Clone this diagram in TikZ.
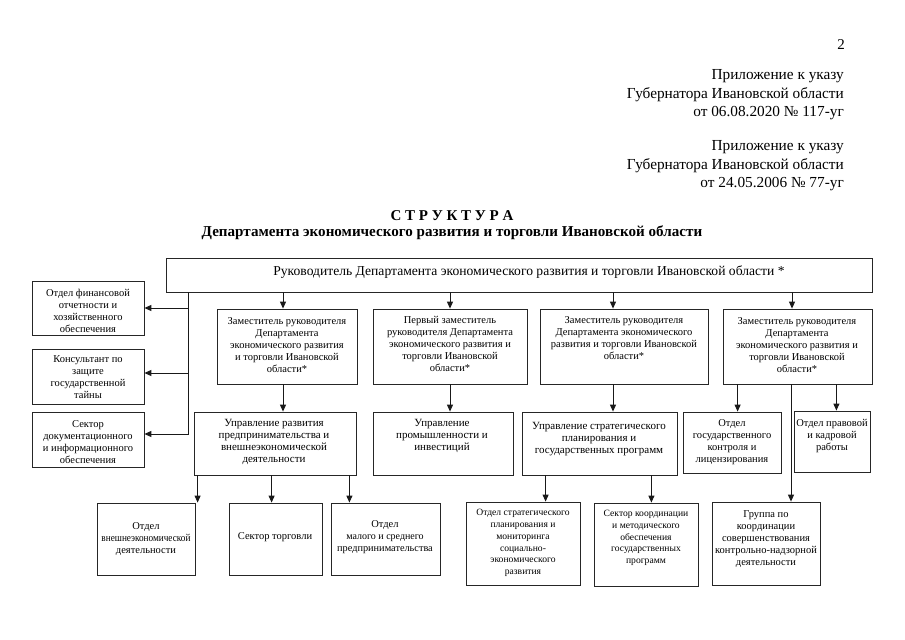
\documentclass[tikz,border=0pt]{standalone}
\usepackage{fontspec}
\setmainfont{Liberation Serif}
\usetikzlibrary{arrows.meta,fit}
\tikzset{
  bx/.style={draw=black!85, line width=0.8bp, inner sep=0pt},
  tx/.style={align=center, inner sep=0pt, font=\fontsize{10.5bp}{12bp}\selectfont},
  txm/.style={align=center, inner sep=0pt, font=\fontsize{11bp}{12.3bp}\selectfont},
  txs/.style={align=center, inner sep=0pt, font=\fontsize{9.6bp}{11.8bp}\selectfont},
  arr/.style={-{Triangle[length=7bp,width=6bp]}, line width=1bp, draw=black!90, fill=black!90},
  ln/.style={line width=1bp, draw=black!90},
}
\newcommand{\rbox}[5]{\node[bx, fit={(#2,#3) (#4,#5)}] (#1) {};}
\begin{document}
\begin{tikzpicture}[x=1bp,y=-1bp]
\useasboundingbox (0,0) rectangle (905,640);
% header
\node[anchor=east, font=\fontsize{15bp}{18bp}\selectfont, inner sep=0pt] (pn) at (845,45) {2};
\node[anchor=east, align=right, inner sep=0pt, font=\fontsize{15.3bp}{18.5bp}\selectfont] (h1) at (844,95)
  {Приложение к указу\\Губернатора Ивановской области\\от 06.08.2020 № 117-уг};
\node[anchor=east, align=right, inner sep=0pt, font=\fontsize{15.3bp}{18.5bp}\selectfont] (h2) at (844,166)
  {Приложение к указу\\Губернатора Ивановской области\\от 24.05.2006 № 77-уг};
\node[inner sep=0pt, font=\bfseries\fontsize{15bp}{17bp}\selectfont] (t1) at (452,216) {С Т Р У К Т У Р А};
\node[inner sep=0pt, font=\bfseries\fontsize{15.1bp}{17bp}\selectfont] (t2) at (452,233) {Департамента экономического развития и торговли Ивановской области};
% boxes
\rbox{top}{166}{258}{872}{292}
\node[inner sep=0pt, font=\fontsize{13.6bp}{15bp}\selectfont] (topt) at (529,272) {Руководитель Департамента экономического развития и торговли Ивановской области *};
\rbox{L1}{32}{281}{144}{335}
\node[tx] (L1t) at (88,311) {Отдел финансовой\\отчетности и\\хозяйственного\\обеспечения};
\rbox{L2}{32}{349}{144}{404}
\node[tx] (L2t) at (88,377) {Консультант по\\защите\\государственной\\тайны};
\rbox{L3}{32}{412}{144}{467}
\node[tx] (L3t) at (88,442) {Сектор\\документационного\\и информационного\\обеспечения};
\rbox{d1}{217}{309}{357}{384}
\node[tx] (d1t) at (287,345) {Заместитель руководителя\\Департамента\\экономического развития\\и торговли Ивановской\\области*};
\rbox{d2}{373}{309}{527}{384}
\node[tx] (d2t) at (450,344) {Первый заместитель\\руководителя Департамента\\экономического развития и\\торговли Ивановской\\области*};
\rbox{d3}{540}{309}{708}{384}
\node[tx] (d3t) at (624,338) {Заместитель руководителя\\Департамента экономического\\развития и торговли Ивановской\\области*};
\rbox{d4}{723}{309}{872}{384}
\node[tx] (d4t) at (797,345) {Заместитель руководителя\\Департамента\\экономического развития и\\торговли Ивановской\\области*};
\rbox{u1}{194}{412}{356}{475}
\node[txm] (u1t) at (274,442) {Управление развития\\предпринимательства и\\внешнеэкономической\\деятельности};
\rbox{u2}{373}{412}{513}{475}
\node[txm] (u2t) at (442,436) {Управление\\промышленности и\\инвестиций};
\rbox{u3}{522}{412}{677}{475}
\node[txm] (u3t) at (599,439) {Управление стратегического\\планирования и\\государственных программ};
\rbox{g1}{683}{412}{781}{473}
\node[tx] (g1t) at (732,442) {Отдел\\государственного\\контроля и\\лицензирования};
\rbox{g2}{794}{411}{870}{472}
\node[tx] (g2t) at (832,436) {Отдел правовой\\и кадровой\\работы};
\rbox{A}{97}{503}{195}{575}
\node[tx] (At) at (146,539) {Отдел\\\scalebox{0.88}[1]{внешнеэкономической}\\деятельности};
\rbox{B}{229}{503}{322}{575}
\node[tx] (Bt) at (275,537) {Сектор торговли};
\rbox{C}{331}{503}{440}{575}
\node[txs] (Ct) at (385,537) {\fontsize{10.5bp}{12bp}\selectfont Отдел\\\fontsize{10bp}{12bp}\selectfont малого и среднего\\\fontsize{10.3bp}{12bp}\selectfont предпринимательства};
\rbox{D}{466}{502}{580}{585}
\node[txs] (Dt) at (523,543) {Отдел стратегического\\планирования и\\мониторинга\\социально-\\экономического\\развития};
\rbox{E}{594}{503}{698}{586}
\node[txs] (Et) at (646,538) {Сектор координации\\и методического\\обеспечения\\государственных\\программ};
\rbox{F}{712}{502}{820}{585}
\node[tx] (Ft) at (766,539) {Группа по\\координации\\совершенствования\\контрольно-надзорной\\деятельности};
% connectors from top
\coordinate (vtop) at ([xshift=23bp]top.south west);
\coordinate (vbot) at (vtop |- L3.east);
\draw[ln] (vtop) -- ([yshift=5.5bp]vbot);
\draw[arr] (vtop |- L1.east) -- (L1.east);
\draw[arr] ([yshift=3.5bp]vtop |- L2.east) -- ([yshift=3.5bp]L2.east);
\draw[arr] ([yshift=5.5bp]vbot) -- ([yshift=5.5bp]L3.east);
\draw[arr] ([xshift=-4bp]d1.north |- top.south) -- ([xshift=-4bp]d1.north);
\draw[arr] (d2.north |- top.south) -- (d2.north);
\draw[arr] ([xshift=-11bp]d3.north |- top.south) -- ([xshift=-11bp]d3.north);
\draw[arr] ([xshift=-5.5bp]d4.north |- top.south) -- ([xshift=-5.5bp]d4.north);
% deputies to departments
\draw[arr] ([xshift=-4bp]d1.south) -- ([xshift=-4bp]d1.south |- u1.north);
\draw[arr] (d2.south) -- (d2.south |- u2.north);
\draw[arr] ([xshift=-11bp]d3.south) -- ([xshift=-11bp]d3.south |- u3.north);
\draw[arr] ([xshift=15bp]d4.south west) -- ([xshift=15bp]d4.south west |- g1.north);
\draw[arr] ([xshift=-6.5bp]d4.south) -- ([xshift=-6.5bp]d4.south |- F.north);
\draw[arr] ([xshift=-36bp]d4.south east) -- ([xshift=-36bp]d4.south east |- g2.north);
% departments to sections
\draw[arr] ([xshift=4bp]u1.south west) -- ([xshift=4bp]u1.south west |- A.north);
\draw[arr] ([xshift=78bp]u1.south west) -- ([xshift=78bp]u1.south west |- B.north);
\draw[arr] ([xshift=-7bp]u1.south east) -- ([xshift=-7bp]u1.south east |- C.north);
\draw[arr] ([xshift=24bp]u3.south west) -- ([xshift=24bp]u3.south west |- D.north);
\draw[arr] ([xshift=-26bp]u3.south east) -- ([xshift=-26bp]u3.south east |- E.north);
\end{tikzpicture}
\end{document}
